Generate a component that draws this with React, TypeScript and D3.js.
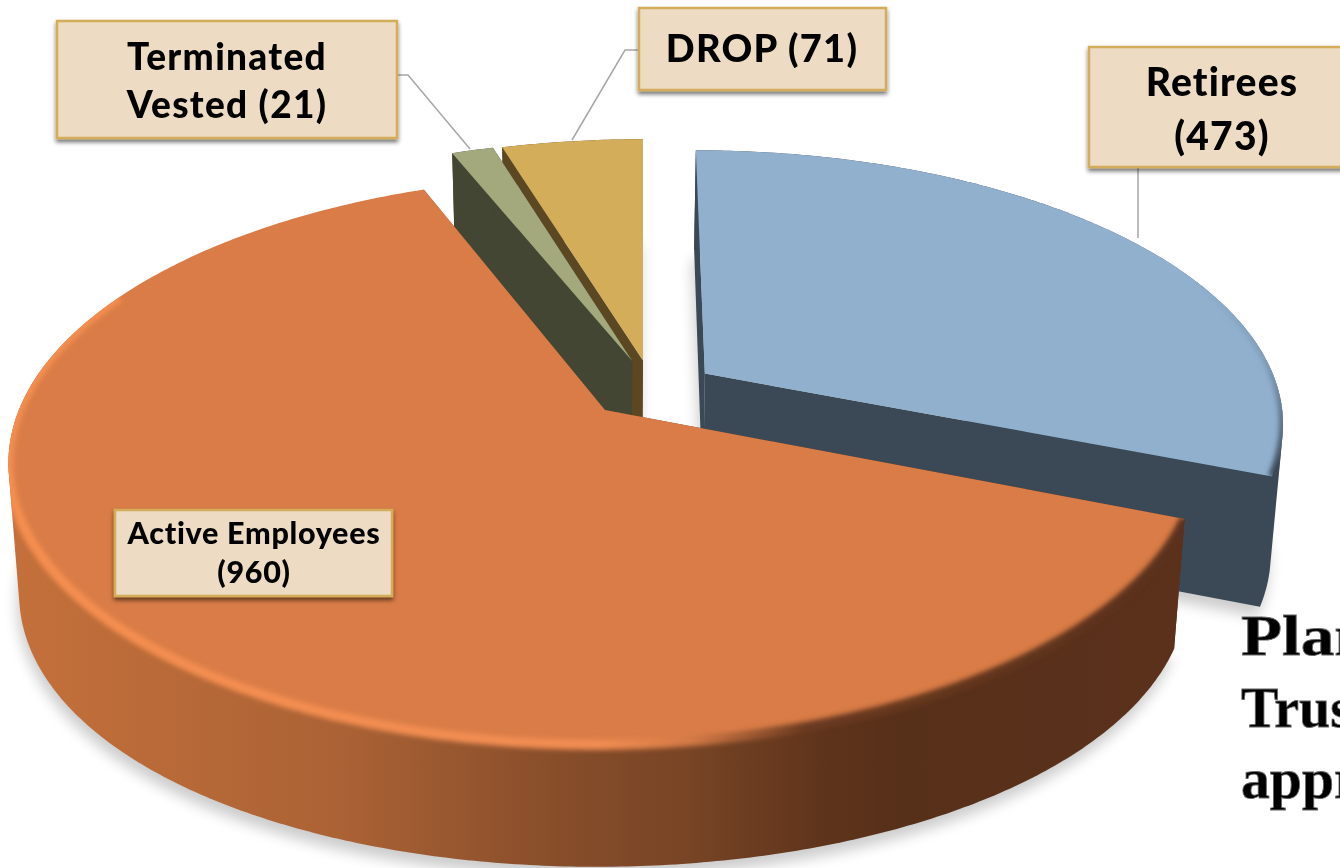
import React from "react";
import * as d3 from "d3";

const categories = ["Retirees", "Active Employees", "Terminated Vested", "DROP"];
const memberCounts = [473, 960, 21, 71];
const faceColors = ["#90b0ce", "#d97c47", "#a3a97d", "#d4ad5a"];
const wallColors = ["#3b4856", "url(#activeWall)", "#434632", "#5c4723"];
const explode = [
  { ox: 0.108, oz: -0.135, r: 0.992 },
  { ox: -0.065, oz: 0, r: 1 },
  { ox: -0.019, oz: -0.183, r: 1 },
  { ox: 0, oz: -0.185, r: 1 },
];
const drawOrder = [3, 2, 0, 1];
const labelLines = [
  ["Retirees", "(473)"],
  ["Active Employees", "(960)"],
  ["Terminated", "Vested (21)"],
  ["DROP (71)"],
];
const labelBoxes = [
  { x: 1089, y: 47, w: 280, h: 120, fs: 39, ls: 1.2, lh: 54, first: 49, tx: 1222 },
  { x: 115, y: 510, w: 277, h: 86, fs: 30.5, ls: 0.7, lh: 39, first: 34, tx: 254 },
  { x: 57, y: 21, w: 340, h: 117, fs: 37, ls: 1.3, lh: 48, first: 49, tx: 227 },
  { x: 639, y: 8, w: 247, h: 82, fs: 38, ls: 1.3, lh: 40, first: 54, tx: 762 },
];
const leaders = [
  [[1138, 167], [1138, 238]],
  [[397, 75], [408, 75], [470, 149]],
  [[639, 50], [625, 50], [572, 140]],
];
const sideText = ["Plan", "Trust", "appr"];
const sideBaselines = [655, 727, 798];
const sideStretch = [1.2, 1.0, 1.03];

const CX = 643, CY = 410, R = 586, K = 276, T = 0.1754;
const toVP = 0.018, VX = 600;
const lastVisibleWallAngle = (285 * Math.PI) / 180;

type Pt = [number, number];
const top = (px: number, pz: number): Pt => {
  const s = 1 / (1 - pz * T);
  return [CX + R * px * s, CY + K * pz * s];
};
const bottom = (px: number, pz: number): Pt => {
  const [x, y] = top(px, pz);
  return [x + (VX - x) * toVP, y + 129 + 8.9 * pz - 15.8 * pz * pz];
};

const pieGen = d3.pie<number>().sort(null).startAngle(0).endAngle(2 * Math.PI);
const arcs = pieGen(memberCounts);
const line = d3.line<Pt>();

function rim(i: number, a0: number, a1: number) {
  const e = explode[i];
  const angles = d3.range(a0, a1, 0.01).concat([a1]);
  return angles.map((a) => [e.ox + e.r * Math.sin(a), e.oz - e.r * Math.cos(a)] as Pt);
}
const centerOf = (i: number): Pt => [explode[i].ox, explode[i].oz];
const closed = (pts: Pt[]) => (line(pts) ?? "") + "Z";

const slices = arcs.map((d, i) => {
  const ring = rim(i, d.startAngle, d.endAngle);
  const c = centerOf(i);
  const outline = [c, ...ring];
  const topPts = outline.map((p) => top(p[0], p[1]));
  const botPts = outline.map((p) => bottom(p[0], p[1]));
  const crossesLimit = d.startAngle < lastVisibleWallAngle && d.endAngle > lastVisibleWallAngle;
  const visible = rim(i, d.startAngle, crossesLimit ? lastVisibleWallAngle : d.endAngle);
  const first = ring[0];
  const last = ring[ring.length - 1];
  const startWall = [top(c[0], c[1]), top(first[0], first[1]), bottom(first[0], first[1]), bottom(c[0], c[1])];
  const endWall = [top(c[0], c[1]), top(last[0], last[1]), bottom(last[0], last[1]), bottom(c[0], c[1])];
  const hull = d3.polygonHull([
    ...visible.map((p) => top(p[0], p[1])),
    ...visible.map((p) => bottom(p[0], p[1])),
  ]) as Pt[];
  return { i, d, topPts, botPts, startWall, endWall, hull };
});

const bevelSpec: Record<number, { from: number; to: number; stroke: string; w: number }> = {
  0: { from: 50, to: 111.7, stroke: "url(#retireeBevel)", w: 8 },
  1: { from: 111.6, to: 296, stroke: "url(#activeBevel)", w: 10 },
};
const rad = (deg: number) => (deg * Math.PI) / 180;
const labelFont = "'Lato', 'Open Sans', sans-serif";

export default function App() {
  return (
    <svg width={1340} height={868} viewBox="0 0 1340 868"
      style={{ position: "fixed", left: 0, top: 0, background: "#fff", display: "block" }}>
      <defs>
        <linearGradient id="activeWall" gradientUnits="userSpaceOnUse" x1="15" x2="1180" y1="0" y2="0">
          <stop offset="0" stopColor="#c4703b" />
          <stop offset="0.28" stopColor="#ab6235" />
          <stop offset="0.45" stopColor="#8a4f2b" />
          <stop offset="0.58" stopColor="#774425" />
          <stop offset="0.7" stopColor="#5e331b" />
          <stop offset="0.76" stopColor="#57301a" />
          <stop offset="1" stopColor="#5b311c" />
        </linearGradient>
        <linearGradient id="activeBevel" gradientUnits="userSpaceOnUse" x1="15" x2="1180" y1="0" y2="0">
          <stop offset="0" stopColor="#f58e50" />
          <stop offset="0.5" stopColor="#f28d52" />
          <stop offset="0.58" stopColor="#d47a46" />
          <stop offset="0.68" stopColor="#6a3a20" />
          <stop offset="1" stopColor="#5b311c" />
        </linearGradient>
        <linearGradient id="retireeBevel" gradientUnits="userSpaceOnUse" x1="0" x2="0" y1="280" y2="470">
          <stop offset="0" stopColor="#90b0ce" />
          <stop offset="0.45" stopColor="#7d99b4" />
          <stop offset="1" stopColor="#3b4856" />
        </linearGradient>
        <filter id="soft" x="-10%" y="-10%" width="120%" height="120%"><feGaussianBlur stdDeviation="2.4" /></filter>
        <filter id="dropBlur" filterUnits="userSpaceOnUse" x="-50" y="-50" width="1440" height="968">
          <feGaussianBlur stdDeviation="7" />
        </filter>
        <filter id="boxShadow" x="-5%" y="-10%" width="110%" height="125%">
          <feDropShadow dx="0" dy="3" stdDeviation="2" floodColor="#000" floodOpacity="0.55" />
        </filter>
        {[0, 1].map((i) => (
          <clipPath id={`clip${i}`} key={i}>
            <path d={closed(slices[i].topPts)} />
            <path d={closed(slices[i].hull)} />
          </clipPath>
        ))}
      </defs>

      <g filter="url(#dropBlur)" opacity={0.2}>
        {drawOrder.map((i) => (
          <path key={`sh${i}`} d={closed(slices[i].botPts)} transform="translate(-2,10)" fill="#000" />
        ))}
      </g>

      {drawOrder.map((i) => {
        const s = slices[i];
        const b = bevelSpec[i];
        return (
          <g key={categories[i]}>
            <path d={closed(s.startWall)} fill={wallColors[i]} />
            <path d={closed(s.endWall)} fill={wallColors[i]} />
            <path d={closed(s.hull)} fill={wallColors[i]} />
            <path d={closed(s.topPts)} fill={faceColors[i]} />
            {b && (
              <g clipPath={`url(#clip${i})`}>
                <path d={line(rim(i, rad(b.from), rad(b.to)).map((p) => top(p[0], p[1]))) ?? ""}
                  fill="none" stroke={b.stroke} strokeWidth={b.w} filter="url(#soft)" />
              </g>
            )}
          </g>
        );
      })}

      {leaders.map((l, i) => (
        <path key={i} d={line(l as Pt[]) ?? ""} fill="none" stroke="#a6a6a6" strokeWidth={1.5} />
      ))}

      {labelBoxes.map((b, i) => (
        <g key={`lab${i}`}>
          <rect x={b.x} y={b.y} width={b.w} height={b.h} fill="#eddcc3" stroke="#d4ad5a" strokeWidth={2.5} filter="url(#boxShadow)" />
          {labelLines[i].map((t, j) => (
            <text key={t} x={b.tx} y={b.y + b.first + j * b.lh} textAnchor="middle"
              fontFamily={labelFont} fontWeight={900} fontSize={b.fs} letterSpacing={b.ls} fill="#000">{t}</text>
          ))}
        </g>
      ))}

      {sideText.map((t, i) => (
        <text key={t} transform={`translate(1241,${sideBaselines[i]}) scale(${sideStretch[i]},1)`}
          fontFamily="'Liberation Serif', serif" fontWeight={700} fontSize={56}
          fill="#000" stroke="#666" strokeWidth={0.8}>{t}</text>
      ))}
    </svg>
  );
}
